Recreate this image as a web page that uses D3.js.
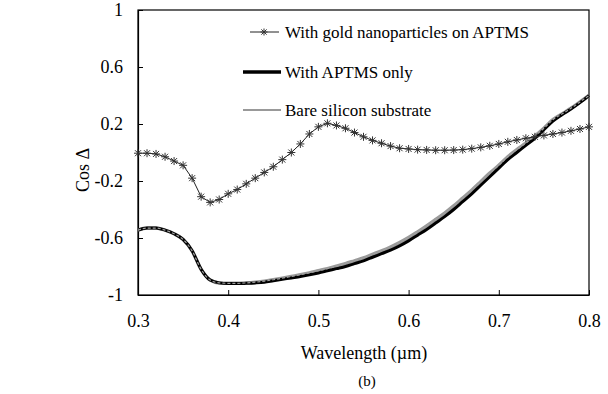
<!DOCTYPE html>
<html>
<head>
<meta charset="utf-8">
<script src="https://cdn.jsdelivr.net/npm/d3@7"></script>
<style>
  html, body { margin: 0; padding: 0; background: #fff; }
  svg { display: block; font-family: "Liberation Serif", Tinos, "DejaVu Serif", serif; }
  svg text { font-family: "Liberation Serif", Tinos, "DejaVu Serif", serif; }
</style>
</head>
<body>
<svg id="chart" width="608" height="394"></svg>
<script>
// wavelength samples (µm)
const wavelengths = [
  0.30, 0.31, 0.32, 0.33, 0.34, 0.35, 0.36, 0.37, 0.38, 0.39,
  0.40, 0.41, 0.42, 0.43, 0.44, 0.45, 0.46, 0.47, 0.48, 0.49,
  0.50, 0.51, 0.52, 0.53, 0.54, 0.55, 0.56, 0.57, 0.58, 0.59,
  0.60, 0.61, 0.62, 0.63, 0.64, 0.65, 0.66, 0.67, 0.68, 0.69,
  0.70, 0.71, 0.72, 0.73, 0.74, 0.75, 0.76, 0.77, 0.78, 0.79, 0.80
];

// cos Δ with gold nanoparticles on APTMS
const goldValues = [
  -0.005, -0.005, -0.01, -0.03, -0.06, -0.09, -0.18, -0.31, -0.35, -0.33,
  -0.29, -0.26, -0.22, -0.18, -0.14, -0.10, -0.05, 0.00, 0.06, 0.13,
  0.18, 0.205, 0.19, 0.17, 0.14, 0.11, 0.085, 0.065, 0.045, 0.03,
  0.025, 0.02, 0.018, 0.016, 0.016, 0.017, 0.02, 0.027, 0.036, 0.047,
  0.06, 0.075, 0.088, 0.1, 0.11, 0.12, 0.13, 0.14, 0.152, 0.165, 0.18
];

// cos Δ with APTMS only
const aptmsValues = [
  -0.545, -0.53, -0.53, -0.545, -0.57, -0.61, -0.69, -0.82, -0.895, -0.915,
  -0.92, -0.92, -0.918, -0.915, -0.91, -0.90, -0.89, -0.88, -0.87, -0.858,
  -0.845, -0.83, -0.815, -0.80, -0.78, -0.76, -0.735, -0.71, -0.685, -0.655,
  -0.62, -0.58, -0.54, -0.495, -0.45, -0.40, -0.345, -0.29, -0.23, -0.17,
  -0.11, -0.05, 0.00, 0.05, 0.10, 0.16, 0.22, 0.265, 0.305, 0.35, 0.40
];

// cos Δ bare silicon substrate
const bareValues = [
  -0.545, -0.53, -0.53, -0.545, -0.57, -0.61, -0.69, -0.82, -0.895, -0.915,
  -0.918, -0.918, -0.915, -0.91, -0.903, -0.893, -0.882, -0.87, -0.858, -0.845,
  -0.83, -0.815, -0.798, -0.78, -0.76, -0.74, -0.715, -0.69, -0.663, -0.632,
  -0.597, -0.557, -0.515, -0.47, -0.425, -0.375, -0.32, -0.265, -0.205, -0.145,
  -0.09, -0.03, 0.02, 0.065, 0.115, 0.17, 0.23, 0.27, 0.31, 0.355, 0.40
];

const xTicks = [0.3, 0.4, 0.5, 0.6, 0.7, 0.8];
const yTicks = [-1, -0.6, -0.2, 0.2, 0.6, 1];
const legendLabels = ['With gold nanoparticles on APTMS', 'With APTMS only', 'Bare silicon substrate'];

const svg = d3.select('#chart');
const plot = { left: 138, right: 589, top: 10, bottom: 295 };

const x = d3.scaleLinear().domain([0.3, 0.8]).range([plot.left, plot.right]);
const y = d3.scaleLinear().domain([-1, 1]).range([plot.bottom, plot.top]);

// frame
svg.append('rect')
  .attr('x', plot.left).attr('y', plot.top)
  .attr('width', plot.right - plot.left).attr('height', plot.bottom - plot.top)
  .attr('fill', 'none').attr('stroke', '#000').attr('stroke-width', 1.2);

// axes, ticks drawn inward
const xAxis = svg.append('g')
  .attr('transform', `translate(0,${plot.bottom})`)
  .call(d3.axisBottom(x).tickValues(xTicks).tickSizeInner(-5).tickSizeOuter(0).tickPadding(19)
    .tickFormat(d => d.toFixed(1)));
const yAxis = svg.append('g')
  .attr('transform', `translate(${plot.left},0)`)
  .call(d3.axisLeft(y).tickValues(yTicks).tickSizeInner(-5).tickSizeOuter(0).tickPadding(15)
    .tickFormat(d => String(d)));
[xAxis, yAxis].forEach(g => {
  g.attr('font-family', null);
  g.select('.domain').attr('stroke', '#000').attr('stroke-width', 1.2);
  g.selectAll('.tick line').attr('stroke', '#000');
  g.selectAll('.tick text')
    .attr('fill', '#000')
    .style('font-size', '18px');
});

// axis titles
svg.append('text')
  .attr('x', 364).attr('y', 359)
  .attr('text-anchor', 'middle')
  .style('font-size', '18px')
  .text('Wavelength (µm)');
svg.append('text')
  .attr('transform', 'translate(89,170) rotate(-90)')
  .attr('text-anchor', 'middle')
  .style('font-size', '18px')
  .text('Cos Δ');
svg.append('text')
  .attr('x', 367).attr('y', 386)
  .attr('text-anchor', 'middle')
  .style('font-size', '15px')
  .text('(b)');

const line = d3.line()
  .x((d, i) => x(wavelengths[i]))
  .y(d => y(d))
  .curve(d3.curveMonotoneX);

// bare substrate (grey) and APTMS (black)
svg.append('path')
  .attr('d', line(bareValues))
  .attr('fill', 'none').attr('stroke', '#9a9a9a').attr('stroke-width', 3.5);
svg.append('path')
  .attr('d', line(aptmsValues))
  .attr('fill', 'none').attr('stroke', '#000').attr('stroke-width', 3);
svg.append('path')
  .attr('d', line(bareValues))
  .attr('fill', 'none').attr('stroke', '#a0a0a0').attr('stroke-width', 1.2)
  .attr('stroke-dasharray', '3,2');

// gold series: thin line with star markers
const starPath = r => {
  const p = d3.path();
  p.moveTo(-r, 0); p.lineTo(r, 0);
  p.moveTo(0, -r); p.lineTo(0, r);
  const k = r * 0.75;
  p.moveTo(-k, -k); p.lineTo(k, k);
  p.moveTo(-k, k); p.lineTo(k, -k);
  return p.toString();
};
svg.append('path')
  .attr('d', d3.line().x((d, i) => x(wavelengths[i])).y(d => y(d))(goldValues))
  .attr('fill', 'none').attr('stroke', '#222').attr('stroke-width', 1);
svg.append('g').selectAll('path')
  .data(goldValues)
  .enter()
  .append('path')
  .attr('transform', (d, i) => `translate(${x(wavelengths[i])},${y(d)})`)
  .attr('d', starPath(4))
  .attr('fill', 'none').attr('stroke', '#333').attr('stroke-width', 1);

// legend
const legendY = [32, 72, 110];
const lg = svg.append('g');
lg.append('line').attr('x1', 250).attr('x2', 279).attr('y1', legendY[0]).attr('y2', legendY[0])
  .attr('stroke', '#222').attr('stroke-width', 1);
lg.append('path').attr('transform', `translate(264,${legendY[0]})`).attr('d', starPath(3.5))
  .attr('fill', 'none').attr('stroke', '#333').attr('stroke-width', 1);
lg.append('line').attr('x1', 243).attr('x2', 281).attr('y1', legendY[1]).attr('y2', legendY[1])
  .attr('stroke', '#000').attr('stroke-width', 3.5);
lg.append('line').attr('x1', 243).attr('x2', 281).attr('y1', legendY[2]).attr('y2', legendY[2])
  .attr('stroke', '#999').attr('stroke-width', 2);
lg.selectAll('text')
  .data(legendLabels)
  .enter()
  .append('text')
  .attr('x', 285)
  .attr('y', (d, i) => legendY[i])
  .attr('dy', '0.33em')
  .style('font-size', '17px')
  .text(d => d);
</script>
</body>
</html>
